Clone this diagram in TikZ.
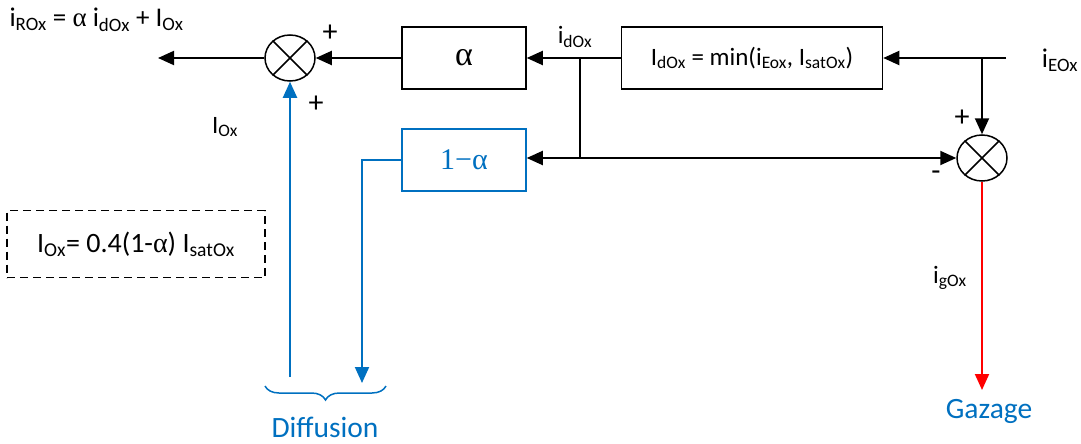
\documentclass[tikz,border=0pt]{standalone}
\usepackage{fontspec}
\setmainfont{Carlito}
\newfontfamily\grk{Liberation Serif}
\usetikzlibrary{arrows.meta,positioning,shapes.geometric,decorations.pathreplacing}
\definecolor{diffBlue}{RGB}{0,112,192}
\definecolor{gazRed}{RGB}{255,0,0}
\newcommand{\lo}[1]{\textsubscript{#1}}

\begin{document}
\begin{tikzpicture}[
  x=1pt, y=-1pt,
  font=\fontsize{25}{29}\selectfont,
  blk/.style={draw, line width=1.5pt, minimum width=124pt, minimum height=62pt, inner sep=0pt},
  sumj/.style={ellipse, draw, line width=1.5pt, minimum width=50pt, minimum height=46pt, inner sep=0pt},
  flow/.style={line width=2pt, -{Triangle[length=16pt,width=14pt]}},
  sgn/.style={font=\fontsize{30}{32}\selectfont},
  big/.style={font=\fontsize{29.5}{33}\selectfont, text=diffBlue}
]
\useasboundingbox (0,0) rectangle (1081,444);
% blocks and summing junctions
\node[sumj] (sumL) at (290,58) {};
\node[sumj] (sumR) at (982,158) {};
\node[blk] (alpha) at (464,58) {\fontsize{34}{36}\selectfont\grk α};
\node[blk, minimum width=261pt] (minb) at (752,58) {I\lo{dOx} = min(i\lo{Eox}, I\lo{satOx})};
\node[blk, draw=diffBlue, text=diffBlue] (onema) at (464,160) {\fontsize{30}{32}\selectfont\grk 1−α};
\node[draw, line width=1.2pt, dash pattern=on 8pt off 5pt, minimum width=258pt, minimum height=67pt,
  font=\fontsize{28}{32}\selectfont] (ioxbox) at (136,244)
  {I\lo{Ox}= 0.4(1-{\grk α}) I\lo{satOx}};
\foreach \s in {sumL,sumR}
  \draw[line width=1.5pt] (\s.45) -- (\s.225) (\s.135) -- (\s.315);

% free ends and junctions
\coordinate (out) at (158,58);
\coordinate (jd) at (580,58);
\coordinate (jd2) at (580,158);
\coordinate (in) at (1006,58);
\coordinate (je) at (982,58);
\coordinate (dfup) at (290,377);
\coordinate (dfdn) at (362,383);
\coordinate (gz) at (982,390);

% connectors
\draw[flow] (sumL) -- (out);
\draw[flow] (alpha) -- (sumL);
\draw[flow] (minb) -- (alpha);
\draw[flow] (in) -- (minb);
\draw[flow] (je) -- (sumR);
\draw[line width=2pt] (jd) -- (jd2);
\draw[flow] (jd2) -- (onema.east |- jd2);
\draw[flow] (jd2) -- (sumR);
\draw[flow, diffBlue] (onema.west) -| (dfdn);
\draw[flow, diffBlue] (dfup) -- (sumL);
\draw[flow, gazRed] (sumR) -- (gz);
\draw[diffBlue, line width=1.5pt, decorate, decoration={brace, mirror, amplitude=14pt}] (265,386) -- (386,386);

% labels
\node[anchor=west, font=\fontsize{27}{31}\selectfont] (iro) at (6,20) {i\lo{ROx} = {\grk α} i\lo{dOx} + I\lo{Ox}};
\node[sgn] (pl1) at (330,33) {+};
\node[sgn] (pl2) at (316,104) {+};
\node[sgn] (pl3) at (962,118) {+};
\node[sgn] (mn1) at (936,176) {-};
\node (iox) at (225,127) {I\lo{Ox}};
\node (ido) at (575,37) {i\lo{dOx}};
\node[font=\fontsize{27}{31}\selectfont] (ieo) at (1060,60) {i\lo{EOx}};
\node (igo) at (950,278) {i\lo{gOx}};
\node[big] (diff) at (325,427) {Diffusion};
\node[big] (gaz) at (989,411) {Gazage};
\end{tikzpicture}
\end{document}
